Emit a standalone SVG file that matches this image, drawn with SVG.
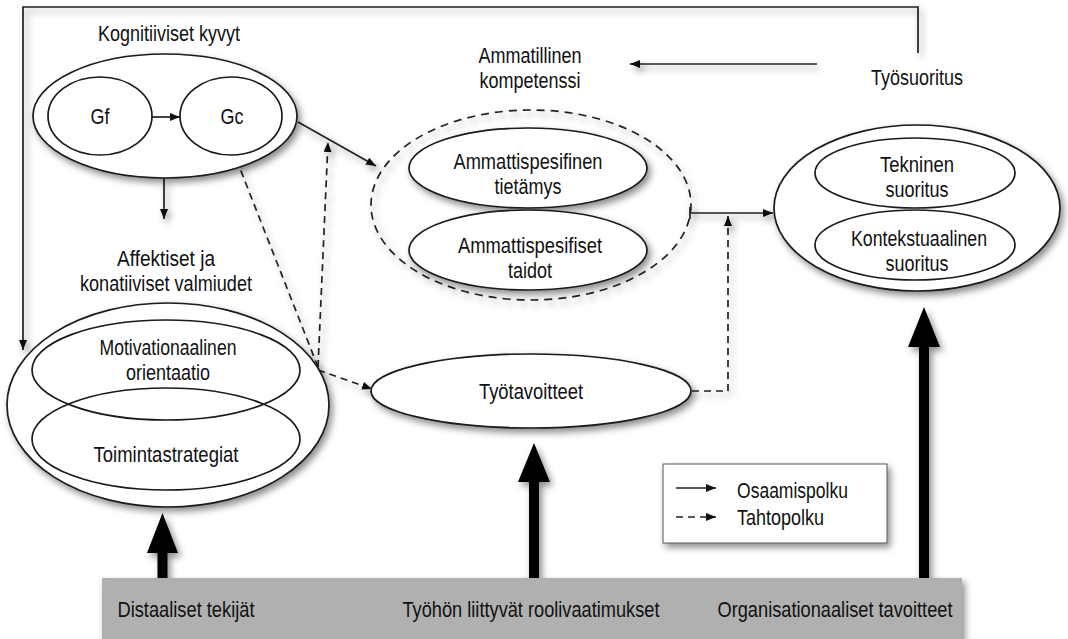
<svg xmlns="http://www.w3.org/2000/svg" width="1068" height="639" viewBox="0 0 1068 639">
<style>
text{font-family:"Liberation Sans",Arial,sans-serif;font-size:22px;fill:#111;text-anchor:middle}
.n{fill:#fff;stroke:#1a1a1a;stroke-width:1.7}
.ni{fill:none;stroke:#1a1a1a;stroke-width:1.7}
.ln{fill:none;stroke:#222;stroke-width:1.7}
.ds{fill:none;stroke:#222;stroke-width:1.7;stroke-dasharray:7 5}
.thick{fill:#000;stroke:none}
.st{text-anchor:start}
</style>
<defs>
<filter id="sh" x="-20%" y="-20%" width="150%" height="160%">
<feDropShadow dx="3" dy="4" stdDeviation="3.5" flood-color="#000" flood-opacity="0.45"/>
</filter>
<marker id="ah" viewBox="0 0 10 8" refX="10" refY="4" markerWidth="10" markerHeight="8" markerUnits="userSpaceOnUse" orient="auto">
<path d="M0,0 L10,4 L0,8 z" fill="#111"/>
</marker>
</defs>
<rect width="1068" height="639" fill="#fff"/>

<g id="connectors" filter="url(#sh)">
<polyline class="ln" points="918,53 918,7 23,7 23,350" marker-end="url(#ah)"/>
<line class="ln" x1="817" y1="64" x2="630" y2="64" marker-end="url(#ah)"/>
<line class="ln" x1="164" y1="178" x2="164" y2="219" marker-end="url(#ah)"/>
<line class="ln" x1="298" y1="122" x2="376" y2="166" marker-end="url(#ah)"/>
<line class="ds" x1="318" y1="367" x2="228" y2="138" marker-end="url(#ah)"/>
<line class="ds" x1="318" y1="367" x2="328" y2="142" marker-end="url(#ah)"/>
<line class="ds" x1="318" y1="370" x2="372" y2="389" marker-end="url(#ah)"/>
<line class="ln" x1="690" y1="213" x2="773" y2="213" marker-end="url(#ah)"/>
<line class="ln" x1="690" y1="207" x2="690" y2="219"/>
<polyline class="ds" points="692,391 728,391 728,216" marker-end="url(#ah)"/>
<path class="thick" d="M157.5,579 L157.5,553 L147,553 L162.5,513 L178,553 L167.5,553 L167.5,579 z"/>
<path class="thick" d="M529,579 L529,482 L518,482 L534,443 L550,482 L539,482 L539,579 z"/>
<path class="thick" d="M919,579 L919,347 L908,347 L924,307 L940,347 L929,347 L929,579 z"/>
</g>

<g id="top-labels">
<text x="530" y="63" textLength="103" lengthAdjust="spacingAndGlyphs">Ammatillinen</text>
<text x="530" y="88" textLength="101" lengthAdjust="spacingAndGlyphs">kompetenssi</text>
<text x="917" y="85" textLength="92" lengthAdjust="spacingAndGlyphs">Työsuoritus</text>
</g>

<g id="kognitiiviset">
<text x="169" y="41" textLength="142" lengthAdjust="spacingAndGlyphs">Kognitiiviset kyvyt</text>
<ellipse class="n" cx="165" cy="116" rx="132" ry="62" filter="url(#sh)"/>
<g id="gf"><ellipse class="ni" cx="100" cy="116" rx="52" ry="39"/><text x="100" y="124" textLength="19" lengthAdjust="spacingAndGlyphs">Gf</text></g>
<g id="gc"><ellipse class="ni" cx="231" cy="116" rx="51" ry="39"/><text x="232" y="124" textLength="23" lengthAdjust="spacingAndGlyphs">Gc</text></g>
<line class="ln" x1="152" y1="117" x2="180" y2="117" marker-end="url(#ah)"/>
</g>

<g id="affektiset">
<text x="166" y="266" textLength="98" lengthAdjust="spacingAndGlyphs">Affektiset ja</text>
<text x="166" y="291" textLength="172" lengthAdjust="spacingAndGlyphs">konatiiviset valmiudet</text>
<ellipse class="n" cx="168" cy="405" rx="161" ry="102" filter="url(#sh)"/>
<g id="motivationaalinen"><ellipse class="ni" cx="166" cy="370" rx="134" ry="50"/>
<text x="168" y="355" textLength="137" lengthAdjust="spacingAndGlyphs">Motivationaalinen</text><text x="168" y="380" textLength="84" lengthAdjust="spacingAndGlyphs">orientaatio</text></g>
<g id="toimintastrategiat"><ellipse class="ni" cx="166" cy="439" rx="134" ry="51"/>
<text x="166" y="462" textLength="145" lengthAdjust="spacingAndGlyphs">Toimintastrategiat</text></g>
</g>

<g id="kompetenssi">
<ellipse cx="531" cy="205" rx="160" ry="95" fill="none" stroke="#222" stroke-width="1.7" stroke-dasharray="8 6" filter="url(#sh)"/>
<g id="tietamys"><ellipse class="n" cx="528" cy="168" rx="119" ry="40" filter="url(#sh)"/>
<text x="528" y="169" textLength="149" lengthAdjust="spacingAndGlyphs">Ammattispesifinen</text><text x="528" y="194" textLength="67" lengthAdjust="spacingAndGlyphs">tietämys</text></g>
<g id="taidot"><ellipse class="n" cx="528" cy="250" rx="119" ry="40" filter="url(#sh)"/>
<text x="530" y="253" textLength="144" lengthAdjust="spacingAndGlyphs">Ammattispesifiset</text><text x="530" y="278" textLength="44" lengthAdjust="spacingAndGlyphs">taidot</text></g>
</g>

<g id="tyotavoitteet">
<ellipse class="n" cx="531" cy="391" rx="160" ry="37" filter="url(#sh)"/>
<text x="531" y="399" textLength="104" lengthAdjust="spacingAndGlyphs">Työtavoitteet</text>
</g>

<g id="tyosuoritus">
<ellipse class="n" cx="917" cy="208" rx="143" ry="83" filter="url(#sh)"/>
<g id="tekninen"><ellipse class="ni" cx="915" cy="173" rx="100" ry="35"/>
<text x="917" y="172" textLength="74" lengthAdjust="spacingAndGlyphs">Tekninen</text><text x="917" y="197" textLength="63" lengthAdjust="spacingAndGlyphs">suoritus</text></g>
<g id="kontekstuaalinen"><ellipse class="ni" cx="915" cy="245" rx="100" ry="35"/>
<text x="919" y="246" textLength="136" lengthAdjust="spacingAndGlyphs">Kontekstuaalinen</text><text x="917" y="271" textLength="63" lengthAdjust="spacingAndGlyphs">suoritus</text></g>
</g>

<g id="legend">
<rect x="663" y="464" width="224" height="79" fill="#fff" stroke="#555" stroke-width="1" filter="url(#sh)"/>
<line class="ln" x1="676" y1="488" x2="716" y2="488" marker-end="url(#ah)"/>
<line class="ds" x1="676" y1="517" x2="716" y2="517" stroke-dasharray="7 6" marker-end="url(#ah)"/>
<text class="st" x="737" y="498" textLength="111" lengthAdjust="spacingAndGlyphs">Osaamispolku</text>
<text class="st" x="737" y="525" textLength="87" lengthAdjust="spacingAndGlyphs">Tahtopolku</text>
</g>

<g id="bar">
<rect x="102" y="578" width="860" height="64" fill="#b0b0b0" filter="url(#sh)"/>
<text x="186" y="617" textLength="137" lengthAdjust="spacingAndGlyphs">Distaaliset tekijät</text>
<text x="531" y="617" textLength="257" lengthAdjust="spacingAndGlyphs">Työhön liittyvät roolivaatimukset</text>
<text x="835" y="617" textLength="235" lengthAdjust="spacingAndGlyphs">Organisationaaliset tavoitteet</text>
</g>
</svg>
